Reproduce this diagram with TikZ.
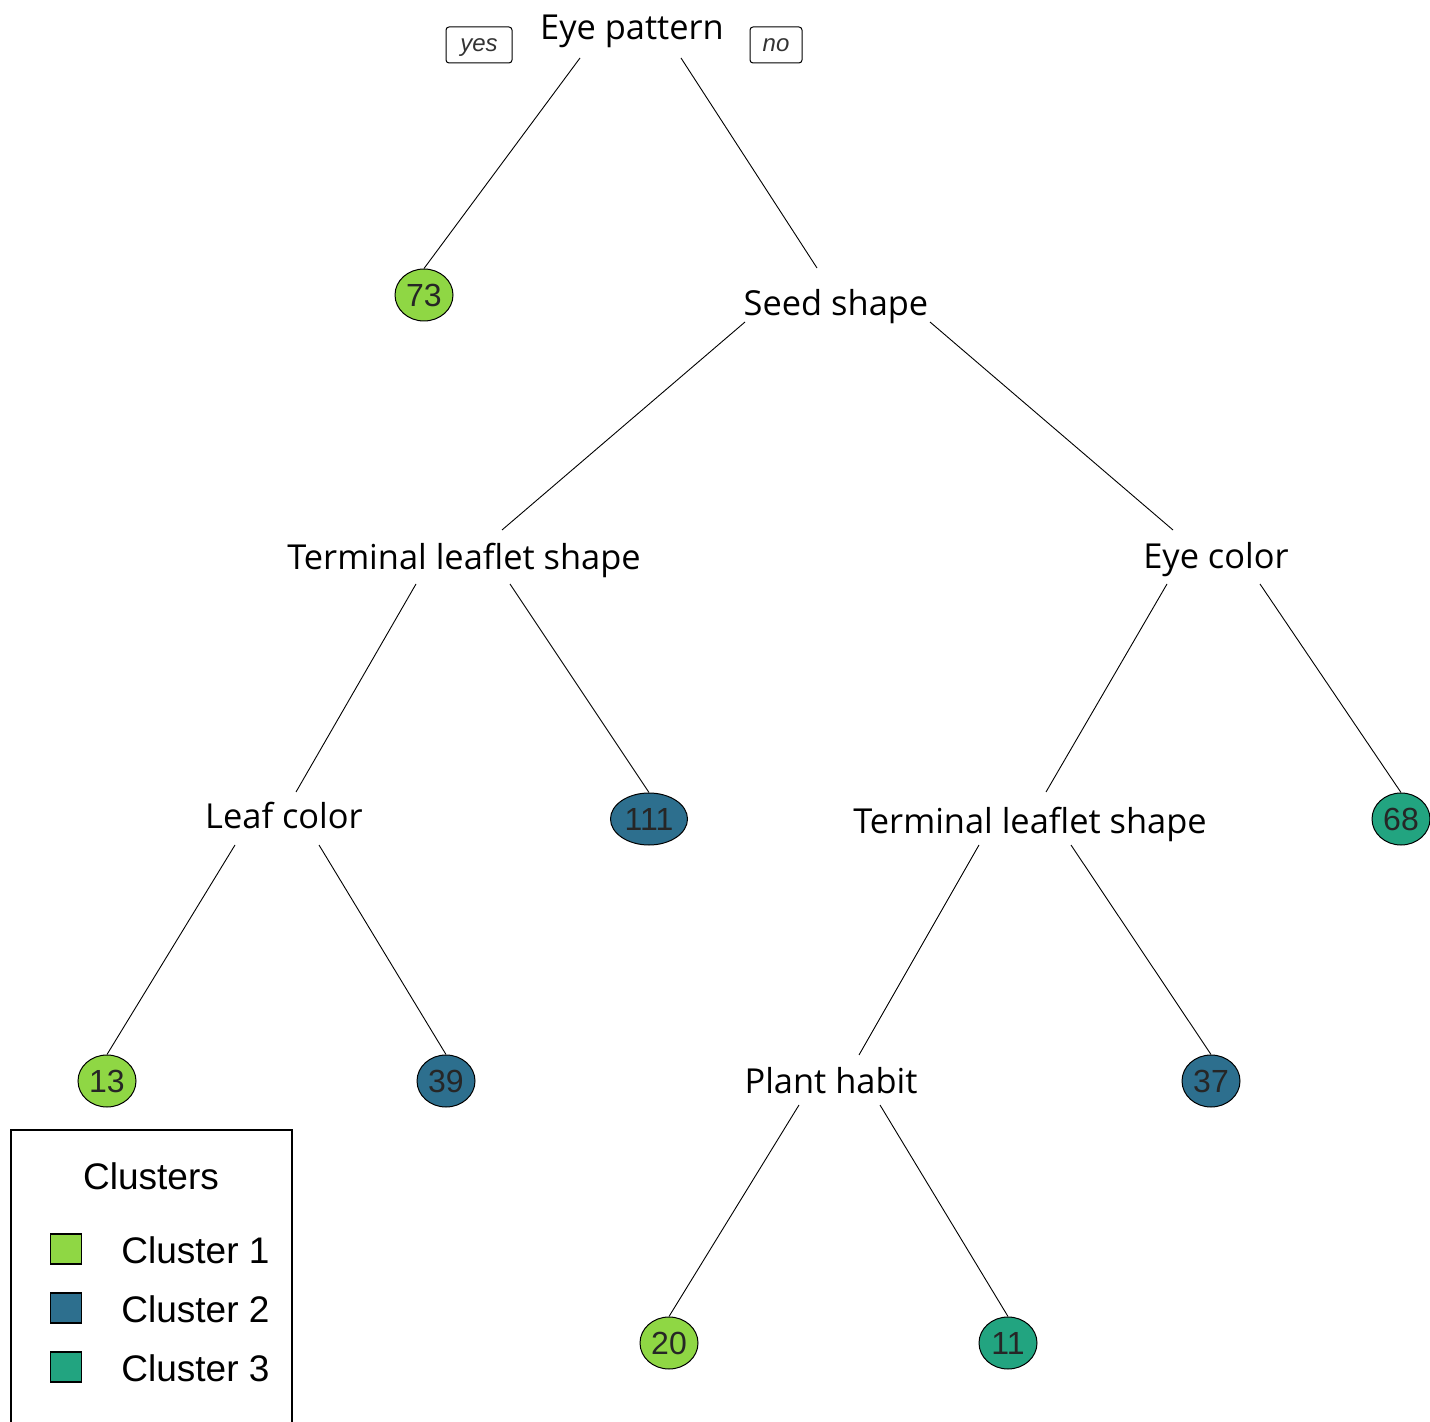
\documentclass[tikz,border=0pt]{standalone}
\usepackage{fontspec}
\setmainfont{Open Sans}
\newfontfamily\arialf{Liberation Sans}
\usetikzlibrary{calc,shapes.geometric}
\definecolor{cone}{RGB}{143,215,68}
\definecolor{ctwo}{RGB}{45,111,142}
\definecolor{cthree}{RGB}{34,164,128}
\tikzset{
  split/.style={inner sep=0pt, anchor=center, text depth=0pt, font=\fontsize{17.2}{20}\selectfont},
  leaf/.style={ellipse, draw=black, line width=0.5pt, inner sep=0pt, minimum width=29pt, minimum height=26pt, font=\arialf\fontsize{16}{18}\selectfont, text=black!85},
  wide/.style={minimum width=38.5pt},
  edge/.style={draw=black, line width=0.45pt},
  tag/.style={draw=black, rounded corners=1.5pt, line width=0.5pt, inner sep=0pt, minimum height=18pt, text depth=0pt, font=\arialf\itshape\fontsize{12}{14}\selectfont, text=black!80},
  swatch/.style={draw=black, line width=0.6pt, minimum width=15.5pt, minimum height=15pt, inner sep=0pt},
  legtext/.style={font=\arialf\fontsize{18.5}{21}\selectfont, anchor=west, inner sep=0pt}
}
\begin{document}
\begin{tikzpicture}[x=0.5pt,y=-0.5pt]
\useasboundingbox (0,0) rectangle (1430,1422);
% split nodes
\node[split] (ep) at (632,27) {Eye pattern};
\node[split] (seed) at (836,302) {Seed shape};
\node[split] (tlsa) at (464,556) {Terminal leaflet shape};
\node[split] (ec) at (1216,555) {Eye color};
\node[split] (lc) at (284,815) {Leaf color};
\node[split] (tlsb) at (1030,820) {Terminal leaflet shape};
\node[split] (ph) at (831,1080) {Plant habit};
% tags
\node[tag, minimum width=33pt] (yes) at (479,45) {yes};
\node[tag, minimum width=26pt] (no) at (776,45) {no};
% leaves
\node[leaf, fill=cone] (n73) at (424,295) {73};
\node[leaf, wide, fill=ctwo] (n111) at (649,819) {111};
\node[leaf, fill=cthree] (n68) at (1401,819) {68};
\node[leaf, fill=cone] (n13) at (107,1081) {13};
\node[leaf, fill=ctwo] (n39) at (446,1081) {39};
\node[leaf, fill=ctwo] (n37) at (1211,1081) {37};
\node[leaf, fill=cone] (n20) at (669,1343) {20};
\node[leaf, fill=cthree] (n11) at (1008,1343) {11};
% edges
\draw[edge] ($(ep)+(-52,31)$) -- (n73.north);
\draw[edge] ($(ep)+(49,31)$) -- ($(seed)+(-19,-34)$);
\draw[edge] ($(seed)+(-91,20)$) -- ($(tlsa)+(38,-26)$);
\draw[edge] ($(seed)+(94,20)$) -- ($(ec)+(-43,-25)$);
\draw[edge] ($(tlsa)+(-48,28)$) -- ($(lc)+(12,-23)$);
\draw[edge] ($(tlsa)+(46,28)$) -- (n111.north);
\draw[edge] ($(ec)+(-49,29)$) -- ($(tlsb)+(16,-28)$);
\draw[edge] ($(ec)+(44,29)$) -- (n68.north);
\draw[edge] ($(lc)+(-49,30)$) -- (n13.north);
\draw[edge] ($(lc)+(35,30)$) -- (n39.north);
\draw[edge] ($(tlsb)+(-51,25)$) -- ($(ph)+(28,-25)$);
\draw[edge] ($(tlsb)+(41,25)$) -- (n37.north);
\draw[edge] ($(ph)+(-32,25)$) -- (n20.north);
\draw[edge] ($(ph)+(49,25)$) -- (n11.north);
% legend
\draw[line width=0.6pt] (11,1440) -- (11,1130) -- (292,1130) -- (292,1440);
\node[font=\arialf\fontsize{18.5}{21}\selectfont, inner sep=0pt] (legt) at (151,1176) {Clusters};
\node[swatch, fill=cone] (s1) at (66,1249) {};
\node[swatch, fill=ctwo] (s2) at (66,1308) {};
\node[swatch, fill=cthree] (s3) at (66,1367) {};
\node[legtext] (l1) at (121,1250) {Cluster 1};
\node[legtext] (l2) at (121,1309) {Cluster 2};
\node[legtext] (l3) at (121,1368) {Cluster 3};
\end{tikzpicture}
\end{document}
